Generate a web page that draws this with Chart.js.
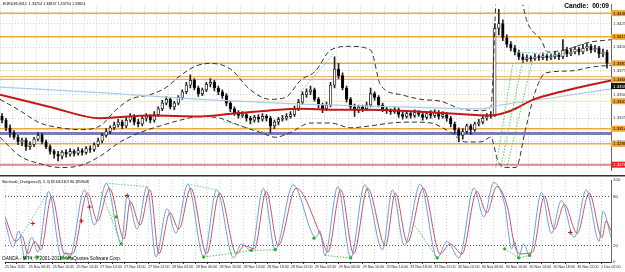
<!DOCTYPE html>
<html>
<head>
<meta charset="utf-8">
<script src="https://cdn.jsdelivr.net/npm/chart.js@4.4.0/dist/chart.umd.min.js"></script>
<style>
  html, body { margin: 0; padding: 0; background: #fff; overflow: hidden; }
  #wrap { position: relative; width: 625px; height: 272px; }
  .pane { position: absolute; left: 0; }
</style>
</head>
<body>
<div id="wrap">
  <div class="pane" style="top:0"><canvas id="main" width="625" height="175"></canvas></div>
  <div class="pane" style="top:175px"><canvas id="stoch" width="625" height="97"></canvas></div>
</div>
<script>
// EURUSD M15 candles (one candle every index)
const opens = [1.3327,1.3323,1.3315,1.3310,1.3305,1.3300,1.3302,1.3295,1.3297,1.3303,
  1.3307,1.3300,1.3295,1.3290,1.3287,1.3285,1.3289,1.3287,1.3290,1.3288,
  1.3291,1.3289,1.3293,1.3292,1.3297,1.3301,1.3307,1.3311,1.3315,1.3318,
  1.3321,1.3317,1.3323,1.3327,1.3321,1.3319,1.3325,1.3327,1.3323,1.3329,
  1.3335,1.3341,1.3345,1.3337,1.3341,1.3347,1.3353,1.3360,1.3365,1.3357,
  1.3351,1.3355,1.3361,1.3363,1.3357,1.3353,1.3349,1.3341,1.3335,1.3331,
  1.3328,1.3329,1.3325,1.3323,1.3326,1.3324,1.3327,1.3325,1.3317,1.3321,
  1.3324,1.3325,1.3327,1.3329,1.3335,1.3342,1.3350,1.3353,1.3355,1.3345,
  1.3339,1.3335,1.3339,1.3360,1.3377,1.3370,1.3357,1.3345,1.3337,1.3333,
  1.3337,1.3335,1.3339,1.3351,1.3347,1.3339,1.3335,1.3333,1.3332,1.3334,
  1.3329,1.3327,1.3330,1.3328,1.3331,1.3329,1.3326,1.3330,1.3328,1.3331,
  1.3327,1.3329,1.3325,1.3319,1.3313,1.3307,1.3311,1.3317,1.3313,1.3319,
  1.3321,1.3325,1.3327,1.3329,1.3420,1.3425,1.3410,1.3403,1.3399,1.3395,
  1.3390,1.3387,1.3389,1.3388,1.3390,1.3389,1.3391,1.3389,1.3390,1.3392,
  1.3390,1.3397,1.3393,1.3395,1.3398,1.3395,1.3399,1.3401,1.3397,1.3399,
  1.3393,1.3395];
const highs = [1.3330,1.3325,1.3318,1.3312,1.3307,1.3304,1.3304,1.3300,1.3305,1.3310,
  1.3309,1.3302,1.3297,1.3292,1.3290,1.3291,1.3292,1.3293,1.3292,1.3294,
  1.3293,1.3295,1.3296,1.3299,1.3304,1.3309,1.3314,1.3317,1.3321,1.3324,
  1.3323,1.3326,1.3330,1.3329,1.3324,1.3327,1.3330,1.3329,1.3332,1.3337,
  1.3344,1.3348,1.3347,1.3343,1.3349,1.3355,1.3363,1.3371,1.3367,1.3359,
  1.3357,1.3363,1.3367,1.3365,1.3359,1.3355,1.3351,1.3343,1.3337,1.3333,
  1.3332,1.3331,1.3327,1.3328,1.3329,1.3330,1.3329,1.3327,1.3323,1.3326,
  1.3328,1.3330,1.3332,1.3338,1.3345,1.3353,1.3356,1.3359,1.3357,1.3347,
  1.3341,1.3342,1.3363,1.3390,1.3383,1.3373,1.3359,1.3347,1.3340,1.3339,
  1.3339,1.3342,1.3357,1.3353,1.3349,1.3341,1.3337,1.3335,1.3337,1.3336,
  1.3332,1.3333,1.3332,1.3334,1.3333,1.3331,1.3332,1.3333,1.3334,1.3333,
  1.3332,1.3331,1.3327,1.3321,1.3315,1.3314,1.3319,1.3319,1.3321,1.3324,
  1.3328,1.3330,1.3332,1.3425,1.3440,1.3429,1.3413,1.3406,1.3402,1.3397,
  1.3393,1.3392,1.3391,1.3393,1.3392,1.3394,1.3393,1.3393,1.3395,1.3394,
  1.3408,1.3400,1.3398,1.3401,1.3400,1.3403,1.3404,1.3403,1.3402,1.3401,
  1.3398,1.3397];
const lows = [1.3320,1.3312,1.3305,1.3303,1.3297,1.3296,1.3291,1.3292,1.3295,1.3301,
  1.3298,1.3293,1.3287,1.3283,1.3280,1.3282,1.3284,1.3285,1.3285,1.3286,
  1.3286,1.3287,1.3289,1.3290,1.3295,1.3299,1.3305,1.3309,1.3313,1.3316,
  1.3314,1.3315,1.3321,1.3318,1.3316,1.3317,1.3322,1.3320,1.3321,1.3327,
  1.3333,1.3339,1.3335,1.3334,1.3339,1.3345,1.3351,1.3357,1.3355,1.3348,
  1.3349,1.3353,1.3358,1.3354,1.3350,1.3346,1.3338,1.3332,1.3328,1.3325,
  1.3326,1.3322,1.3319,1.3321,1.3321,1.3322,1.3322,1.3309,1.3314,1.3318,
  1.3322,1.3323,1.3325,1.3327,1.3333,1.3340,1.3347,1.3350,1.3343,1.3336,
  1.3331,1.3333,1.3337,1.3357,1.3367,1.3355,1.3342,1.3334,1.3327,1.3331,
  1.3332,1.3333,1.3337,1.3344,1.3337,1.3332,1.3330,1.3329,1.3330,1.3326,
  1.3324,1.3325,1.3325,1.3326,1.3327,1.3323,1.3324,1.3325,1.3326,1.3324,
  1.3325,1.3322,1.3316,1.3309,1.3300,1.3303,1.3309,1.3308,1.3311,1.3317,
  1.3319,1.3323,1.3325,1.3327,1.3413,1.3407,1.3400,1.3396,1.3392,1.3387,
  1.3384,1.3385,1.3385,1.3386,1.3386,1.3387,1.3386,1.3387,1.3388,1.3387,
  1.3388,1.3390,1.3391,1.3393,1.3392,1.3393,1.3396,1.3394,1.3395,1.3389,
  1.3390,1.3378];
const closes = [1.3323,1.3315,1.3310,1.3305,1.3300,1.3302,1.3295,1.3297,1.3303,1.3307,
  1.3300,1.3295,1.3290,1.3287,1.3285,1.3289,1.3287,1.3290,1.3288,1.3291,
  1.3289,1.3293,1.3292,1.3297,1.3301,1.3307,1.3311,1.3315,1.3318,1.3321,
  1.3317,1.3323,1.3327,1.3321,1.3319,1.3325,1.3327,1.3323,1.3329,1.3335,
  1.3341,1.3345,1.3337,1.3341,1.3347,1.3353,1.3360,1.3365,1.3357,1.3351,
  1.3355,1.3361,1.3363,1.3357,1.3353,1.3349,1.3341,1.3335,1.3331,1.3328,
  1.3329,1.3325,1.3323,1.3326,1.3324,1.3327,1.3325,1.3317,1.3321,1.3324,
  1.3325,1.3327,1.3329,1.3335,1.3342,1.3350,1.3353,1.3355,1.3345,1.3339,
  1.3335,1.3339,1.3360,1.3377,1.3370,1.3357,1.3345,1.3337,1.3333,1.3337,
  1.3335,1.3339,1.3351,1.3347,1.3339,1.3335,1.3333,1.3332,1.3334,1.3329,
  1.3327,1.3330,1.3328,1.3331,1.3329,1.3326,1.3330,1.3328,1.3331,1.3327,
  1.3329,1.3325,1.3319,1.3313,1.3307,1.3311,1.3317,1.3313,1.3319,1.3321,
  1.3325,1.3327,1.3329,1.3420,1.3425,1.3410,1.3403,1.3399,1.3395,1.3390,
  1.3387,1.3389,1.3388,1.3390,1.3389,1.3391,1.3389,1.3390,1.3392,1.3390,
  1.3397,1.3393,1.3395,1.3398,1.3395,1.3399,1.3401,1.3397,1.3399,1.3393,
  1.3395,1.3383];

// moving averages and bands [index, price]
const redMA = [[-0.5,1.3350],[12,1.3337],[24.5,1.3325],[37,1.3328],[49.5,1.3327],[57.75,1.3330],
  [66.25,1.3333],[74.5,1.3335],[82.75,1.3334],[91.25,1.3334],[99.5,1.3333],[112,1.3330],
  [122,1.3328],[127,1.3333],[132.75,1.3345],[139.5,1.3353],[152,1.3365]];
const blueMA = [[-0.5,1.3358],[24.5,1.3352],[49.5,1.3345],[74.5,1.3340],[99.5,1.3337],
  [119.5,1.3335],[124.5,1.3339],[139.5,1.3348],[152,1.3356]];
const upperBand = [[-0.5,1.3345],[4.5,1.3333],[9.5,1.3320],[14.5,1.3315],[19.5,1.3313],[24.5,1.3317],
  [28.25,1.3333],[32,1.3345],[37,1.3350],[40.75,1.3357],[44.5,1.3370],[48.25,1.3380],[52,1.3383],
  [57,1.3377],[62,1.3355],[67,1.3345],[70.75,1.3347],[74.5,1.3365],[78.25,1.3375],[82,1.3397],
  [87,1.3401],[92,1.3397],[94.5,1.3360],[99.5,1.3350],[104.5,1.3345],[109.5,1.3343],[114.5,1.3335],
  [119.5,1.3333],[122,1.3337],[123.75,1.3475],[127.75,1.3475],[131.25,1.3425],[134.5,1.3408],
  [136.25,1.3395],[141.25,1.3398],[146.25,1.3405],[152,1.3408]];
const lowerBand = [[-0.5,1.3305],[4.5,1.3285],[9.5,1.3277],[14.5,1.3273],[19.5,1.3275],[24.5,1.3285],
  [29.5,1.3300],[34.5,1.3310],[39.5,1.3317],[44.5,1.3323],[49.5,1.3327],[54.5,1.3325],[59.5,1.3317],
  [64.5,1.3310],[68.25,1.3305],[72,1.3310],[77,1.3320],[82,1.3320],[87,1.3315],[92,1.3317],
  [97,1.3320],[102,1.3321],[107,1.3320],[112,1.3310],[115.75,1.3300],[119.5,1.3300],[122,1.3305],
  [123.75,1.3280],[125.75,1.3273],[128.25,1.3273],[130.75,1.3315],[133.25,1.3355],[135.75,1.3373],
  [142,1.3375],[147,1.3379],[152,1.3381]];
const cyanMain = [[[74.5,1.3353],[82.75,1.3393]], [[128.75,1.3395],[140.25,1.3392]]];
const greenMain = [[[55.25,1.3322],[67.5,1.3308]], [[123.25,1.3273],[127.5,1.3383]],
  [[124.5,1.3273],[130,1.3387]], [[126,1.3273],[132.5,1.3388]]];

// horizontal levels
const levelPrices = [1.3436, 1.3411, 1.3383, 1.3369, 1.3366, 1.3343, 1.3314, 1.3309, 1.3298, 1.3276];
const levelColors = ['#eeaa3c','#eeaa3c','#eeaa3c','#f2bb5c','#e9a48e','#f3e4ac','#eeaa3c','#7c7cb4','#eeaa3c','#dc8c8c'];
const levelWidths = [1.5, 1.5, 1.5, 1.2, 1.2, 1, 1.5, 3, 1.5, 2];
const levelTags = ['#f2a530','#f2a530','#f2a530',null,'#f2a530','#f2a530','#f2a530',null,'#f2a530','#e02424'];
const maTag = 1.3359;

const priceTicks = [1.3275, 1.3300, 1.3325, 1.3350, 1.3375, 1.3400, 1.3425];

// stochastic (5,3,3) [index, value]
const stochK = [[-0.5,50],[1.5,18],[3,38],[4.5,5],[6.25,30],[7.75,12],[10.5,86],[13.75,5],[14.75,12],
  [15.75,6],[19.5,88],[22,45],[25,96],[28.75,22],[30.25,80],[32.75,40],[35.25,92],[37.5,6],[40.25,65],
  [42.5,35],[45.5,95],[49.5,6],[52.75,88],[57,5],[59,22],[61.5,14],[64.5,90],[67.5,15],[72,94],
  [77.75,30],[78.75,38],[80,8],[83.25,92],[86.5,5],[90,94],[94.5,15],[97,88],[100,20],[104,95],
  [108.25,5],[110.75,25],[113.75,5],[117.5,90],[120,55],[122.5,97],[125.25,70],[127,16],[127.75,25],
  [128.75,6],[130,22],[131.5,8],[134.5,85],[137,35],[139.5,75],[142.75,30],[145.75,88],[149,25],
  [150,62],[152,30]];
const stochD = [[-0.5,55],[2.25,25],[3.75,32],[5.25,10],[7,25],[8.5,15],[11.25,80],[14.5,10],[16.5,10],
  [20.25,84],[22.75,50],[25.75,90],[29.5,28],[31,74],[33.5,45],[36,88],[38.25,10],[41,60],[43.25,40],
  [46.25,90],[50.25,10],[53.5,84],[57.75,10],[59.75,20],[62.25,16],[65.25,86],[68.25,20],[72.75,90],
  [79,32],[80.75,12],[84,88],[87.25,10],[90.75,90],[95.25,20],[97.75,84],[100.75,24],[104.75,90],
  [109,10],[111.5,22],[114.5,10],[118.25,86],[120.75,60],[123.25,92],[126,66],[127.75,20],[129.5,10],
  [132.25,12],[135.25,80],[137.75,40],[140.25,70],[143.5,35],[146.5,84],[149.75,30],[150.75,50],[152,38]];
const greenStoch = [[[4.5,5],[7.75,6]], [[13.75,5],[15.75,6]], [[23.75,85],[28.75,22]],
  [[49.5,6],[61.5,14],[67.5,15]], [[80,8],[86.5,5]], [[102.75,44],[108.25,5]],
  [[125.25,16],[128.75,5],[131.5,8]]];
const cyanStoch = [[[2.75,26],[10.5,86]], [[25,96],[35.25,92]], [[45.5,95],[52.75,88]]];
const greenDots = [[4.5,5],[7.75,6],[13.75,5],[15.75,6],[27.5,55],[28.75,22],[49.5,6],[61.5,14],
  [67.5,15],[77.25,29],[86.5,5],[108.25,5],[125.25,16],[128.75,5],[131.5,8]];
const redCrosses = [[6.5,47],[18.75,50],[20.75,67],[30.25,81],[141.75,36]];
const stochTicks = [0, 20, 80, 100];

const timeLabels = ['25 Nov 2011','25 Nov 06:45','25 Nov 10:45','25 Nov 14:45','27 Nov 14:00',
  '27 Nov 18:00','27 Nov 22:00','28 Nov 02:00','28 Nov 06:00','28 Nov 10:00','28 Nov 14:00',
  '28 Nov 18:00','28 Nov 22:00','29 Nov 02:00','29 Nov 06:00','29 Nov 10:00','29 Nov 14:00',
  '29 Nov 18:00','29 Nov 22:00','30 Nov 02:00','30 Nov 06:00','30 Nov 10:00','30 Nov 14:00',
  '30 Nov 18:00','30 Nov 22:00','1 Dec 02:00'];

Chart.defaults.font.family = '"Liberation Sans", Arial, sans-serif';

const pts = arr => arr.map(([x, y]) => ({x, y}));
const X_MIN = -0.5, X_MAX = 152;
const gridTicks = [];
for (let v = X_MIN; v <= X_MAX; v += 3) gridTicks.push({value: v});

const lineSet = (data, color, width, dash, order, smooth) => ({
  type: 'line', data: pts(data), borderColor: color, borderWidth: width,
  borderDash: dash || [], pointRadius: 0, order: order,
  cubicInterpolationMode: smooth ? 'monotone' : 'default', tension: 0
});

// ---------- main price pane ----------
const bodies = opens.map((o, i) => ({x: i, y: [o, closes[i]]}));
const wicks = lows.map((l, i) => ({x: i, y: [l, highs[i]]}));
const bodyColors = opens.map((o, i) => closes[i] > o ? '#ffffff' : '#000000');

const mainSets = [];
levelPrices.forEach((p, i) => {
  mainSets.push(lineSet([[X_MIN, p], [X_MAX, p]], levelColors[i], levelWidths[i], null, 10));
});
mainSets.push({type: 'bar', data: wicks, backgroundColor: '#222', borderWidth: 0,
  barThickness: 1, grouped: false, order: 6});
mainSets.push({type: 'bar', data: bodies, backgroundColor: bodyColors, borderColor: '#111',
  borderWidth: 0.8, borderSkipped: false, barThickness: 2.6, minBarLength: 1, grouped: false, order: 5});
mainSets.push(lineSet(upperBand, '#333', 1, [5, 3], 4, true));
mainSets.push(lineSet(lowerBand, '#333', 1, [5, 3], 4, true));
mainSets.push(lineSet(blueMA, '#a8cde6', 1.2, null, 3, true));
mainSets.push(lineSet(redMA, '#c41818', 2, null, 2, true));
cyanMain.forEach(seg => mainSets.push(lineSet(seg, '#6cd0e0', 1, [2, 1.5], 1)));
greenMain.forEach(seg => mainSets.push(lineSet(seg, '#55cc55', 1, [1.5, 1.5], 1)));

const mainText = {
  id: 'mainText',
  afterDraw(chart) {
    const {ctx, scales: {y}} = chart;
    ctx.save();
    ctx.textBaseline = 'middle';
    ctx.fillStyle = '#000';
    ctx.font = '3.7px "Liberation Sans"';
    ctx.fillText('EURUSD,M15  1.33754 1.33837 1.33754 1.33824', 3, 4);
    ctx.font = 'bold 6.6px "Liberation Sans"';
    ctx.textAlign = 'right';
    ctx.fillText('Candle:  00:09', 609, 6);
    ctx.textAlign = 'left';
    ctx.font = '4.4px "Liberation Sans"';
    levelPrices.forEach((p, i) => {
      const tag = levelTags[i];
      if (!tag) return;
      const py = y.getPixelForValue(p);
      ctx.fillStyle = tag;
      ctx.fillRect(611, py - 3, 14, 6);
      ctx.fillStyle = tag === '#e02424' ? '#fff' : '#000';
      ctx.fillText(p.toFixed(5), 613, py + 0.3);
    });
    const my = y.getPixelForValue(maTag);
    ctx.fillStyle = '#111';
    ctx.fillRect(611, my - 3, 14, 6);
    ctx.fillStyle = '#fff';
    ctx.fillText(maTag.toFixed(5), 613, my + 0.3);
    ctx.restore();
  }
};

new Chart(document.getElementById('main'), {
  type: 'bar',
  data: {datasets: mainSets},
  options: {
    responsive: false, animation: false, events: [],
    layout: {padding: 0},
    plugins: {legend: {display: false}, tooltip: {enabled: false}},
    scales: {
      x: {
        type: 'linear', min: X_MIN, max: X_MAX, offset: false,
        afterBuildTicks: s => { s.ticks = gridTicks.slice(); },
        afterFit: s => { s.height = 0; },
        ticks: {display: false},
        grid: {color: '#cfcfcf', drawTicks: false, offset: false},
        border: {display: false, dash: [1, 2]}
      },
      y: {
        position: 'right', min: 1.3270, max: 1.3445,
        afterBuildTicks: s => { s.ticks = priceTicks.map(v => ({value: v})); },
        afterFit: s => { s.width = 14; },
        ticks: {font: {size: 4.4}, color: '#333', padding: 2, callback: v => v.toFixed(5)},
        grid: {color: '#cfcfcf', drawTicks: false},
        border: {display: true, color: '#666', dash: [1, 2]}
      }
    }
  },
  plugins: [mainText]
});

// ---------- stochastic pane ----------
const stochSets = [];
stochSets.push(lineSet(stochK, '#6d9fd6', 1, null, 3, true));
stochSets.push(lineSet(stochD, '#c6546c', 1, null, 2, true));
greenStoch.forEach(seg => stochSets.push(lineSet(seg, '#44cc44', 1, [1.5, 1.5], 1)));
cyanStoch.forEach(seg => stochSets.push(lineSet(seg, '#55cccc', 1, [1.5, 1.5], 1)));
stochSets.push({type: 'line', data: pts(greenDots), showLine: false, pointRadius: 1.6,
  pointBackgroundColor: '#22b422', pointBorderWidth: 0, order: 0});
stochSets.push({type: 'line', data: pts(redCrosses), showLine: false, pointStyle: 'cross',
  pointRadius: 2.2, pointBorderColor: '#cc1111', pointBorderWidth: 1, order: 0});

const stochText = {
  id: 'stochText',
  afterDraw(chart) {
    const {ctx} = chart;
    ctx.save();
    ctx.fillStyle = '#333';
    ctx.fillRect(0, 0, 625, 1.5);
    ctx.fillStyle = '#000';
    ctx.textBaseline = 'middle';
    ctx.font = '3.5px "Liberation Sans"';
    ctx.fillText('Stochastic_Divergence(5, 3, 3) 83.6451307 86.1859648', 2, 7);
    ctx.font = '4.7px "Liberation Sans"';
    ctx.fillText('OANDA - MT4, \u00A9 2001-2011 MetaQuotes Software Corp.', 2, 84);
    ctx.restore();
  }
};

new Chart(document.getElementById('stoch'), {
  type: 'line',
  data: {datasets: stochSets},
  options: {
    responsive: false, animation: false, events: [],
    layout: {padding: {top: 2}},
    plugins: {legend: {display: false}, tooltip: {enabled: false}},
    scales: {
      x: {
        type: 'linear', min: X_MIN, max: X_MAX, offset: false,
        afterBuildTicks: s => { s.ticks = gridTicks.slice(); },
        afterFit: s => { s.height = 10; },
        ticks: {
          autoSkip: false, maxRotation: 0, align: 'start', padding: 1,
          font: {size: 3.6}, color: '#222',
          callback: (v, i) => (i % 2 === 0 && timeLabels[i / 2]) ? timeLabels[i / 2] : ''
        },
        grid: {color: '#d4d4d4', tickLength: 2, tickColor: '#333', offset: false},
        border: {display: true, color: '#333', dash: [1, 2]}
      },
      y: {
        position: 'right', min: 0, max: 100,
        afterBuildTicks: s => { s.ticks = stochTicks.map(v => ({value: v})); },
        afterFit: s => { s.width = 14; },
        ticks: {font: {size: 4.4}, color: '#333', padding: 2},
        grid: {color: c => (c.tick && (c.tick.value === 20 || c.tick.value === 80)) ? '#555' : 'transparent',
          drawTicks: false},
        border: {display: true, color: '#666', dash: [1, 2]}
      }
    }
  },
  plugins: [stochText]
});
</script>
</body>
</html>
